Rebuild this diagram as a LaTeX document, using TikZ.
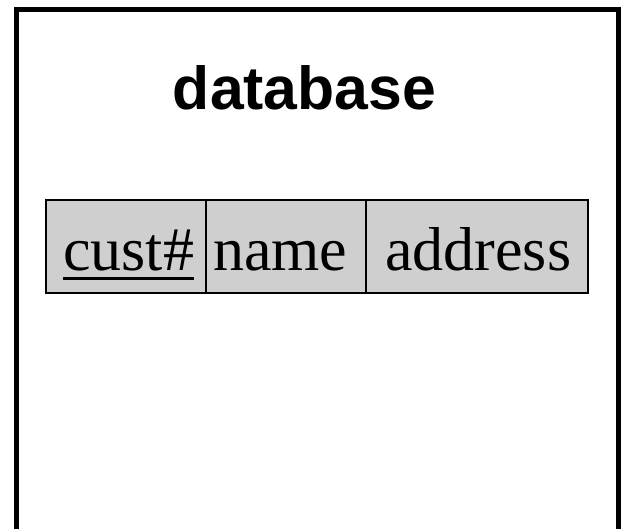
\documentclass[tikz,border=0pt]{standalone}
\usepackage{fontspec}
\setmainfont{Liberation Serif}
\newfontfamily\headfont{Liberation Sans}
\begin{document}
\begin{tikzpicture}[x=1pt,y=-1pt,
  cellbox/.style={draw=black,line width=2pt,fill=black!19,inner sep=0pt},
  celltext/.style={font=\fontsize{62}{62}\selectfont,inner sep=0pt,anchor=base west},
  frame/.style={draw=black,line width=5pt}]
\useasboundingbox (0,0) rectangle (621,529);
\clip (0,0) rectangle (621,529);
% outer frame, open past the lower edge
\draw[frame] (16.5,560) -- (16.5,9.5) -- (618,9.5) -- (618,560);
% title
\node[font=\headfont\bfseries\fontsize{60.7}{60.7}\selectfont,inner sep=0pt,anchor=base]
  (title) at (304.5,110) {database};
% relation schema cells
\path[cellbox] (46,200) rectangle (206,293);
\path[cellbox] (206,200) rectangle (366,293);
\path[cellbox] (366,200) rectangle (588,293);
\node[celltext] (c1) at (63,271) {cust\#};
\node[celltext] (c2) at (213,271) {name};
\node[celltext] (c3) at (385,271) {address};
% key attribute underline
\draw[line width=3pt] ([yshift=-8pt]c1.base west) -- ([yshift=-8pt]c1.base east);
\end{tikzpicture}
\end{document}
